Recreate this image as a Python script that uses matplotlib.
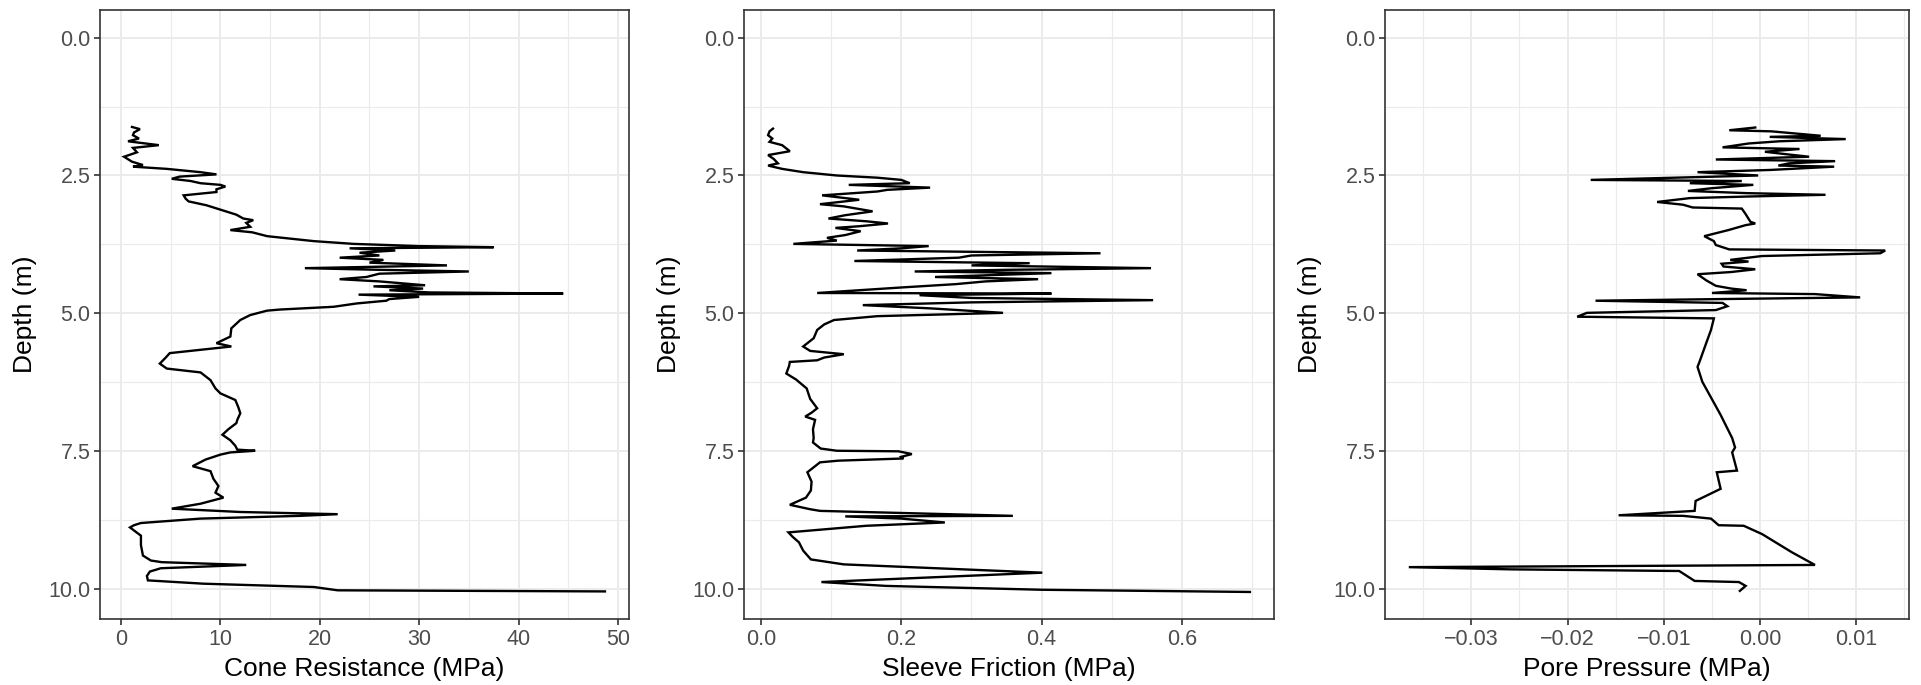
import matplotlib
matplotlib.use("Agg")
import matplotlib.pyplot as plt
from matplotlib.ticker import MultipleLocator

plt.rcParams["font.family"] = ["Liberation Sans", "DejaVu Sans"]

# Cone resistance profile (depth m, qc MPa)
cone_depth = [1.62, 1.66, 1.72, 1.77, 1.83, 1.88, 1.95, 2.00, 2.08, 2.16, 2.25, 2.31, 2.34,
              2.38, 2.44, 2.48, 2.52, 2.56, 2.60, 2.64, 2.67, 2.70, 2.75, 2.80, 2.86, 2.92,
              2.97, 3.04, 3.12, 3.21, 3.28, 3.31, 3.36, 3.43, 3.49, 3.53, 3.60, 3.69, 3.74,
              3.78, 3.80, 3.82, 3.86, 3.90, 3.95, 3.99, 4.03, 4.08, 4.13, 4.16, 4.18, 4.21,
              4.24, 4.28, 4.34, 4.38, 4.42, 4.49, 4.51, 4.55, 4.58, 4.62, 4.64, 4.66, 4.70,
              4.74, 4.77, 4.82, 4.88, 4.93, 4.95, 5.03, 5.12, 5.27, 5.42, 5.54, 5.60, 5.66,
              5.72, 5.80, 5.91, 6.00, 6.07, 6.21, 6.36, 6.45, 6.57, 6.70, 6.81, 6.93, 6.99,
              7.10, 7.20, 7.30, 7.40, 7.47, 7.49, 7.52, 7.56, 7.65, 7.77, 7.86, 8.00, 8.13,
              8.25, 8.34, 8.45, 8.54, 8.60, 8.64, 8.67, 8.72, 8.80, 8.84, 8.88, 9.03, 9.20,
              9.39, 9.48, 9.51, 9.56, 9.62, 9.68, 9.76, 9.84, 9.90, 9.96, 10.02, 10.04]
cone_mpa = [1.1, 1.9, 1.3, 1.2, 1.8, 0.7, 3.8, 1.2, 1.6, 0.3, 1.1, 2.2, 1.2,
            4.6, 8.0, 9.6, 5.9, 5.1, 7.0, 8.0, 10.0, 10.5, 9.6, 9.6, 6.3, 6.5,
            6.8, 8.6, 10.0, 11.6, 12.3, 13.3, 12.6, 13.0, 11.0, 13.2, 14.7, 19.4, 23.4,
            30.0, 37.5, 23.0, 27.6, 24.0, 26.0, 22.0, 26.4, 25.0, 32.8, 24.0, 18.5, 26.0,
            35.0, 26.0, 24.7, 22.0, 26.0, 30.6, 25.4, 30.4, 27.0, 31.0, 44.5, 23.9, 30.0,
            27.0, 26.7, 23.7, 21.4, 16.0, 14.7, 13.0, 12.0, 11.1, 11.0, 9.6, 11.1, 8.0,
            4.9, 4.5, 3.9, 4.6, 8.0, 9.0, 9.5, 10.0, 11.5, 11.8, 12.0, 11.7, 11.6,
            10.8, 10.2, 11.0, 11.5, 11.7, 13.5, 11.0, 10.0, 8.5, 7.2, 9.0, 9.3, 9.8,
            9.5, 10.3, 8.0, 5.1, 12.0, 21.8, 18.0, 8.0, 2.0, 1.3, 0.9, 2.0, 2.0,
            2.2, 3.0, 4.1, 12.6, 4.0, 2.9, 2.6, 2.7, 8.3, 19.4, 21.8, 48.7]

# Sleeve friction profile (depth m, fs MPa)
sleeve_depth = [1.65, 1.70, 1.77, 1.83, 1.89, 1.95, 2.06, 2.13, 2.20, 2.28, 2.32, 2.38, 2.44,
                2.50, 2.54, 2.58, 2.64, 2.67, 2.72, 2.76, 2.79, 2.86, 2.94, 3.02, 3.06, 3.15,
                3.22, 3.28, 3.33, 3.37, 3.42, 3.45, 3.51, 3.58, 3.63, 3.68, 3.74, 3.78, 3.82,
                3.86, 3.91, 3.95, 3.99, 4.05, 4.09, 4.13, 4.18, 4.21, 4.24, 4.27, 4.34, 4.38,
                4.42, 4.47, 4.53, 4.63, 4.64, 4.67, 4.72, 4.76, 4.80, 4.85, 4.91, 4.99, 5.05,
                5.12, 5.20, 5.30, 5.45, 5.60, 5.68, 5.74, 5.80, 5.85, 5.88, 5.95, 6.09, 6.20,
                6.36, 6.55, 6.72, 6.80, 6.87, 6.93, 7.10, 7.26, 7.34, 7.45, 7.49, 7.50, 7.55,
                7.60, 7.63, 7.67, 7.70, 7.88, 8.05, 8.21, 8.34, 8.47, 8.55, 8.58, 8.67, 8.68,
                8.72, 8.79, 8.85, 8.97, 9.05, 9.15, 9.30, 9.46, 9.55, 9.70, 9.87, 9.94, 10.01,
                10.05]
sleeve_mpa = [0.017, 0.012, 0.010, 0.016, 0.012, 0.030, 0.041, 0.010, 0.018, 0.024, 0.010, 0.030, 0.060,
              0.108, 0.166, 0.200, 0.212, 0.125, 0.241, 0.180, 0.166, 0.087, 0.140, 0.084, 0.118, 0.159,
              0.120, 0.096, 0.150, 0.181, 0.140, 0.106, 0.142, 0.120, 0.094, 0.108, 0.046, 0.239, 0.200,
              0.137, 0.484, 0.300, 0.282, 0.133, 0.383, 0.300, 0.556, 0.350, 0.219, 0.414, 0.248, 0.395,
              0.320, 0.277, 0.200, 0.080, 0.414, 0.226, 0.300, 0.559, 0.300, 0.145, 0.243, 0.345, 0.166,
              0.104, 0.090, 0.080, 0.075, 0.060, 0.070, 0.118, 0.090, 0.080, 0.041, 0.040, 0.036, 0.050,
              0.065, 0.070, 0.080, 0.072, 0.063, 0.077, 0.074, 0.075, 0.074, 0.085, 0.108, 0.196, 0.215,
              0.200, 0.203, 0.110, 0.084, 0.066, 0.072, 0.071, 0.064, 0.041, 0.070, 0.084, 0.359, 0.120,
              0.200, 0.262, 0.150, 0.039, 0.045, 0.054, 0.060, 0.071, 0.118, 0.401, 0.086, 0.178, 0.401,
              0.697]

# Pore pressure profile (depth m, u2 MPa)
pore_depth = [1.63, 1.68, 1.70, 1.78, 1.80, 1.84, 1.88, 1.92, 1.99, 2.02, 2.07, 2.12, 2.16,
              2.21, 2.24, 2.28, 2.32, 2.34, 2.40, 2.44, 2.50, 2.58, 2.60, 2.64, 2.67, 2.73,
              2.78, 2.82, 2.85, 2.88, 2.91, 2.98, 3.03, 3.08, 3.10, 3.20, 3.34, 3.37, 3.40,
              3.49, 3.60, 3.69, 3.76, 3.84, 3.86, 3.91, 3.96, 4.03, 4.06, 4.10, 4.15, 4.20,
              4.25, 4.29, 4.40, 4.50, 4.55, 4.58, 4.63, 4.65, 4.71, 4.74, 4.77, 4.81, 4.87,
              4.94, 4.99, 5.06, 5.09, 5.30, 5.54, 5.88, 5.97, 6.24, 6.84, 7.26, 7.43, 7.52,
              7.85, 7.88, 8.18, 8.40, 8.58, 8.66, 8.67, 8.72, 8.84, 8.85, 9.00, 9.33, 9.56,
              9.60, 9.64, 9.67, 9.85, 9.87, 9.94, 10.03]
pore_mpa = [-0.0005, -0.0032, 0.0012, 0.0063, 0.0010, 0.0089, 0.0020, -0.0012, -0.0039, 0.0041, 0.0005, 0.0030, 0.0051,
            -0.0046, 0.0078, 0.0030, 0.0019, 0.0077, 0.0010, -0.0065, -0.0002, -0.0176, -0.0019, -0.0073, -0.0007, -0.0050,
            -0.0075, -0.0014, 0.0068, -0.0010, -0.0073, -0.0107, -0.0080, -0.0070, -0.0019, -0.0015, -0.0010, -0.0005, -0.0015,
            -0.0033, -0.0058, -0.0048, -0.0046, -0.0032, 0.0130, 0.0125, 0.0002, -0.0031, -0.0012, -0.0040, -0.0038, -0.0005,
            -0.0030, -0.0065, -0.0056, -0.0046, -0.0030, -0.0014, -0.0050, 0.0057, 0.0104, -0.0040, -0.0171, -0.0039, -0.0034,
            -0.0046, -0.0180, -0.0190, -0.0048, -0.0051, -0.0056, -0.0063, -0.0065, -0.0060, -0.0041, -0.0029, -0.0026, -0.0029,
            -0.0024, -0.0045, -0.0041, -0.0067, -0.0068, -0.0147, -0.0080, -0.0051, -0.0043, -0.0017, 0.0002, 0.0033, 0.0057,
            -0.0365, -0.0259, -0.0084, -0.0068, -0.0022, -0.0015, -0.0021]

depth_ticks = [0.0, 2.5, 5.0, 7.5, 10.0]
depth_labels = ["0.0", "2.5", "5.0", "7.5", "10.0"]

panels = [
    (cone_depth, cone_mpa, "Cone Resistance (MPa)",
     [0, 10, 20, 30, 40, 50], ["0", "10", "20", "30", "40", "50"], 5),
    (sleeve_depth, sleeve_mpa, "Sleeve Friction (MPa)",
     [0.0, 0.2, 0.4, 0.6], ["0.0", "0.2", "0.4", "0.6"], 0.1),
    (pore_depth, pore_mpa, "Pore Pressure (MPa)",
     [-0.03, -0.02, -0.01, 0.0, 0.01], ["\u22120.03", "\u22120.02", "\u22120.01", "0.00", "0.01"], 0.005),
]

fig = plt.figure(figsize=(19.21, 6.85), dpi=100)
lefts = [100, 744, 1385]
rights = [629, 1274, 1909]
bottom = 1 - 619 / 685
top = 1 - 10 / 685

for (dep, val, xlabel, xticks, xticklabels, xminor), l, r in zip(panels, lefts, rights):
    ax = fig.add_axes([l / 1921, bottom, (r - l) / 1921, top - bottom])
    ax.plot(val, dep, color="black", lw=1.7, solid_joinstyle="miter")
    ax.margins(x=0.05)
    ax.set_ylim(10.54, -0.50)

    ax.set_xticks(xticks)
    ax.set_xticklabels(xticklabels)
    ax.xaxis.set_minor_locator(MultipleLocator(xminor))
    ax.set_yticks(depth_ticks)
    ax.set_yticklabels(depth_labels)
    ax.yaxis.set_minor_locator(MultipleLocator(1.25))

    ax.grid(which="major", color="#EBEBEB", lw=1.4)
    ax.grid(which="minor", color="#EBEBEB", lw=0.8)
    ax.set_axisbelow(True)
    for s in ax.spines.values():
        s.set_color("#333333")
        s.set_linewidth(1.2)

    ax.tick_params(which="major", length=4, width=1.2, color="#333333",
                   labelcolor="#4D4D4D", labelsize=15.5, pad=3)
    ax.tick_params(which="minor", length=0)
    ax.set_xlabel(xlabel, fontsize=19, labelpad=5)
    ax.set_ylabel("Depth (m)", fontsize=19, labelpad=8)

fig.savefig("out.png", dpi=100)
